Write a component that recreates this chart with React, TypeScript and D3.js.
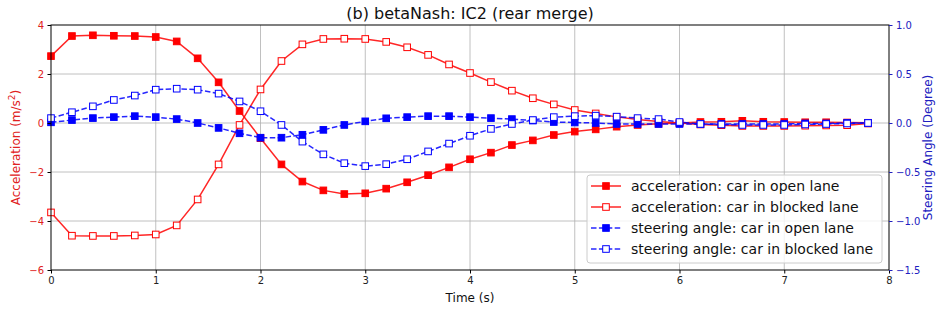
import React from "react";
import * as d3 from "d3";

// time stamps (s)
const times = [
  0, 0.2, 0.4, 0.6, 0.8, 1.0, 1.2, 1.4, 1.6, 1.8, 2.0, 2.2, 2.4, 2.6, 2.8, 3.0, 3.2, 3.4, 3.6, 3.8,
  4.0, 4.2, 4.4, 4.6, 4.8, 5.0, 5.2, 5.4, 5.6, 5.8, 6.0, 6.2, 6.4, 6.6, 6.8, 7.0, 7.2, 7.4, 7.6, 7.8,
];
// acceleration (m/s^2), left axis
const accOpen = [
  2.73, 3.55, 3.58, 3.56, 3.55, 3.51, 3.33, 2.64, 1.66, 0.49, -0.62, -1.69, -2.39, -2.75, -2.9, -2.87,
  -2.68, -2.42, -2.13, -1.81, -1.48, -1.21, -0.9, -0.71, -0.49, -0.35, -0.26, -0.15, -0.08, -0.03, 0.0,
  0.04, 0.05, 0.09, 0.05, 0.04, 0.03, 0.03, 0.02, 0.01,
];
const accBlocked = [
  -3.65, -4.6, -4.61, -4.61, -4.59, -4.55, -4.18, -3.12, -1.69, -0.08, 1.37, 2.53, 3.21, 3.43, 3.44, 3.43,
  3.31, 3.09, 2.78, 2.39, 2.04, 1.67, 1.32, 1.01, 0.76, 0.53, 0.39, 0.25, 0.14, 0.06, 0.0, -0.06, -0.09,
  -0.12, -0.12, -0.12, -0.11, -0.1, -0.09, -0.02,
];
// steering angle (degree), right axis
const steerOpen = [
  0.007, 0.03, 0.05, 0.06, 0.07, 0.06, 0.04, 0.0, -0.05, -0.105, -0.15, -0.15, -0.12, -0.07, -0.02, 0.017,
  0.048, 0.06, 0.07, 0.07, 0.06, 0.05, 0.04, 0.025, 0.01, 0.005, 0.0, -0.01, -0.01, -0.01, -0.01, -0.01,
  -0.01, -0.01, -0.01, -0.01, -0.005, -0.005, 0.0, 0.0,
];
const steerBlocked = [
  0.05, 0.11, 0.17, 0.235, 0.28, 0.34, 0.35, 0.34, 0.3, 0.22, 0.12, -0.02, -0.19, -0.32, -0.41, -0.44,
  -0.42, -0.37, -0.29, -0.21, -0.13, -0.06, -0.01, 0.03, 0.06, 0.07, 0.075, 0.065, 0.05, 0.04, 0.01,
  -0.01, -0.015, -0.02, -0.02, -0.02, -0.015, -0.01, -0.005, 0.0,
];

const xTicks = [0, 1, 2, 3, 4, 5, 6, 7, 8];
const accTicks = [-6, -4, -2, 0, 2, 4];
const steerTicks = [-1.5, -1.0, -0.5, 0.0, 0.5, 1.0];

const legendLabels = [
  "acceleration: car in open lane",
  "acceleration: car in blocked lane",
  "steering angle: car in open lane",
  "steering angle: car in blocked lane",
];

const FONT = "DejaVu Sans, sans-serif";

const App = () => {
  const svgRef = React.useRef<SVGSVGElement>(null);
  const W = 943;
  const H = 311;
  const m = { left: 51, right: 54, top: 25, bottom: 41 };

  React.useEffect(() => {
    const svg = d3.select(svgRef.current);
    svg.selectAll("*").remove();
    svg.attr("width", W).attr("height", H).style("background", "white");

    const pw = W - m.left - m.right;
    const ph = H - m.top - m.bottom;
    const g = svg.append("g").attr("transform", `translate(${m.left},${m.top})`);

    const x = d3.scaleLinear().domain([0, 8]).range([0, pw]);
    const yA = d3.scaleLinear().domain([-6, 4]).range([ph, 0]);
    const yS = d3.scaleLinear().domain([-1.5, 1.0]).range([ph, 0]);

    // grid (left axis only)
    g.append("g")
      .selectAll("line")
      .data(xTicks.slice(1, -1))
      .enter()
      .append("line")
      .attr("x1", (d) => x(d))
      .attr("x2", (d) => x(d))
      .attr("y1", 0)
      .attr("y2", ph)
      .style("stroke", "#b0b0b0")
      .style("stroke-width", 0.8);
    g.append("g")
      .selectAll("line")
      .data(accTicks.slice(1, -1))
      .enter()
      .append("line")
      .attr("x1", 0)
      .attr("x2", pw)
      .attr("y1", (d) => yA(d))
      .attr("y2", (d) => yA(d))
      .style("stroke", "#b0b0b0")
      .style("stroke-width", 0.8);

    const plotLayer = g.append("g");
    const drawSeries = (
      vals: number[],
      y: d3.ScaleLinear<number, number>,
      color: string,
      filled: boolean,
      dashed: boolean
    ) => {
      const pts = times.map((t, i) => [t, vals[i]] as [number, number]);
      const line = d3
        .line<[number, number]>()
        .x((d) => x(d[0]))
        .y((d) => y(d[1]));
      plotLayer
        .append("path")
        .attr("d", line(pts))
        .style("fill", "none")
        .style("stroke", color)
        .style("stroke-opacity", 0.85)
        .style("stroke-width", 1.5)
        .style("stroke-dasharray", dashed ? "5.5,2.4" : null);
      plotLayer
        .append("g")
        .selectAll("rect")
        .data(pts)
        .enter()
        .append("rect")
        .attr("x", (d) => x(d[0]) - 3.3)
        .attr("y", (d) => y(d[1]) - 3.3)
        .attr("width", 6.6)
        .attr("height", 6.6)
        .style("fill", filled ? color : "white")
        .style("stroke", color)
        .style("stroke-width", 1);
    };
    drawSeries(accOpen, yA, "#ff0000", true, false);
    drawSeries(accBlocked, yA, "#ff0000", false, false);
    drawSeries(steerOpen, yS, "#0000ff", true, true);
    drawSeries(steerBlocked, yS, "#0000ff", false, true);

    // spines
    g.append("rect")
      .attr("width", pw)
      .attr("height", ph)
      .style("fill", "none")
      .style("stroke", "black")
      .style("stroke-width", 1);

    // axes
    const xAxis = g
      .append("g")
      .attr("transform", `translate(0,${ph})`)
      .call(d3.axisBottom(x).tickValues(xTicks).tickSize(3.5).tickPadding(3.5).tickFormat(d3.format("d")));
    const leftAxis = g
      .append("g")
      .call(d3.axisLeft(yA).tickValues(accTicks).tickSize(3.5).tickPadding(3.5).tickFormat(d3.format("d")));
    const rightAxis = g
      .append("g")
      .attr("transform", `translate(${pw},0)`)
      .call(d3.axisRight(yS).tickValues(steerTicks).tickSize(3.5).tickPadding(3.5).tickFormat(d3.format(".1f")));
    [xAxis, leftAxis, rightAxis].forEach((a) => {
      a.select(".domain").remove();
      a.selectAll("text").style("font-family", FONT).style("font-size", "10px");
    });
    xAxis.selectAll("line").style("stroke", "black");
    xAxis.selectAll("text").style("fill", "#222");
    leftAxis.selectAll("line").style("stroke", "black");
    leftAxis.selectAll("text").style("fill", "#e02020");
    rightAxis.selectAll("line").style("stroke", "#2020c0");
    rightAxis.selectAll("text").style("fill", "#2020c0");

    // labels
    svg
      .append("text")
      .attr("x", m.left + pw / 2)
      .attr("y", 19)
      .attr("text-anchor", "middle")
      .style("font-family", FONT)
      .style("font-size", "16px")
      .style("fill", "#111")
      .text("(b) betaNash: IC2 (rear merge)");
    svg
      .append("text")
      .attr("x", m.left + pw / 2)
      .attr("y", 302)
      .attr("text-anchor", "middle")
      .style("font-family", FONT)
      .style("font-size", "12px")
      .style("fill", "#111")
      .text("Time (s)");
    const yl = svg
      .append("text")
      .attr("transform", `translate(20,${m.top + ph / 2}) rotate(-90)`)
      .attr("text-anchor", "middle")
      .style("font-family", FONT)
      .style("font-size", "12px")
      .style("fill", "#e02020");
    yl.append("tspan").text("Acceleration (m/s");
    yl.append("tspan").attr("dy", -5).style("font-size", "9px").text("2");
    yl.append("tspan").attr("dy", 5).text(")");
    svg
      .append("text")
      .attr("transform", `translate(932,${m.top + ph / 2}) rotate(-90)`)
      .attr("text-anchor", "middle")
      .style("font-family", FONT)
      .style("font-size", "12px")
      .style("fill", "#2020c0")
      .text("Steering Angle (Degree)");

    // legend
    const lg = svg.append("g").attr("transform", "translate(587,175)");
    lg.append("rect")
      .attr("width", 295)
      .attr("height", 88)
      .attr("rx", 3)
      .style("fill", "white")
      .style("fill-opacity", 0.8)
      .style("stroke", "#cccccc")
      .style("stroke-width", 1);
    const styles = [
      { color: "#ff0000", filled: true, dashed: false },
      { color: "#ff0000", filled: false, dashed: false },
      { color: "#0000ff", filled: true, dashed: true },
      { color: "#0000ff", filled: false, dashed: true },
    ];
    legendLabels.forEach((lab, i) => {
      const s = styles[i];
      const yy = 11 + i * 21;
      lg.append("line")
        .attr("x1", 4)
        .attr("x2", 34)
        .attr("y1", yy)
        .attr("y2", yy)
        .style("stroke", s.color)
        .style("stroke-opacity", 0.85)
        .style("stroke-width", 1.5)
        .style("stroke-dasharray", s.dashed ? "5.5,2.4" : null);
      lg.append("rect")
        .attr("x", 19 - 3.3)
        .attr("y", yy - 3.3)
        .attr("width", 6.6)
        .attr("height", 6.6)
        .style("fill", s.filled ? s.color : "white")
        .style("stroke", s.color);
      lg.append("text")
        .attr("x", 44)
        .attr("y", yy + 5)
        .style("font-family", FONT)
        .style("font-size", "14px")
        .style("fill", "#111")
        .text(lab);
    });
  }, []);

  return <svg ref={svgRef} style={{ position: "absolute", left: 0, top: 0 }} />;
};

export default App;
